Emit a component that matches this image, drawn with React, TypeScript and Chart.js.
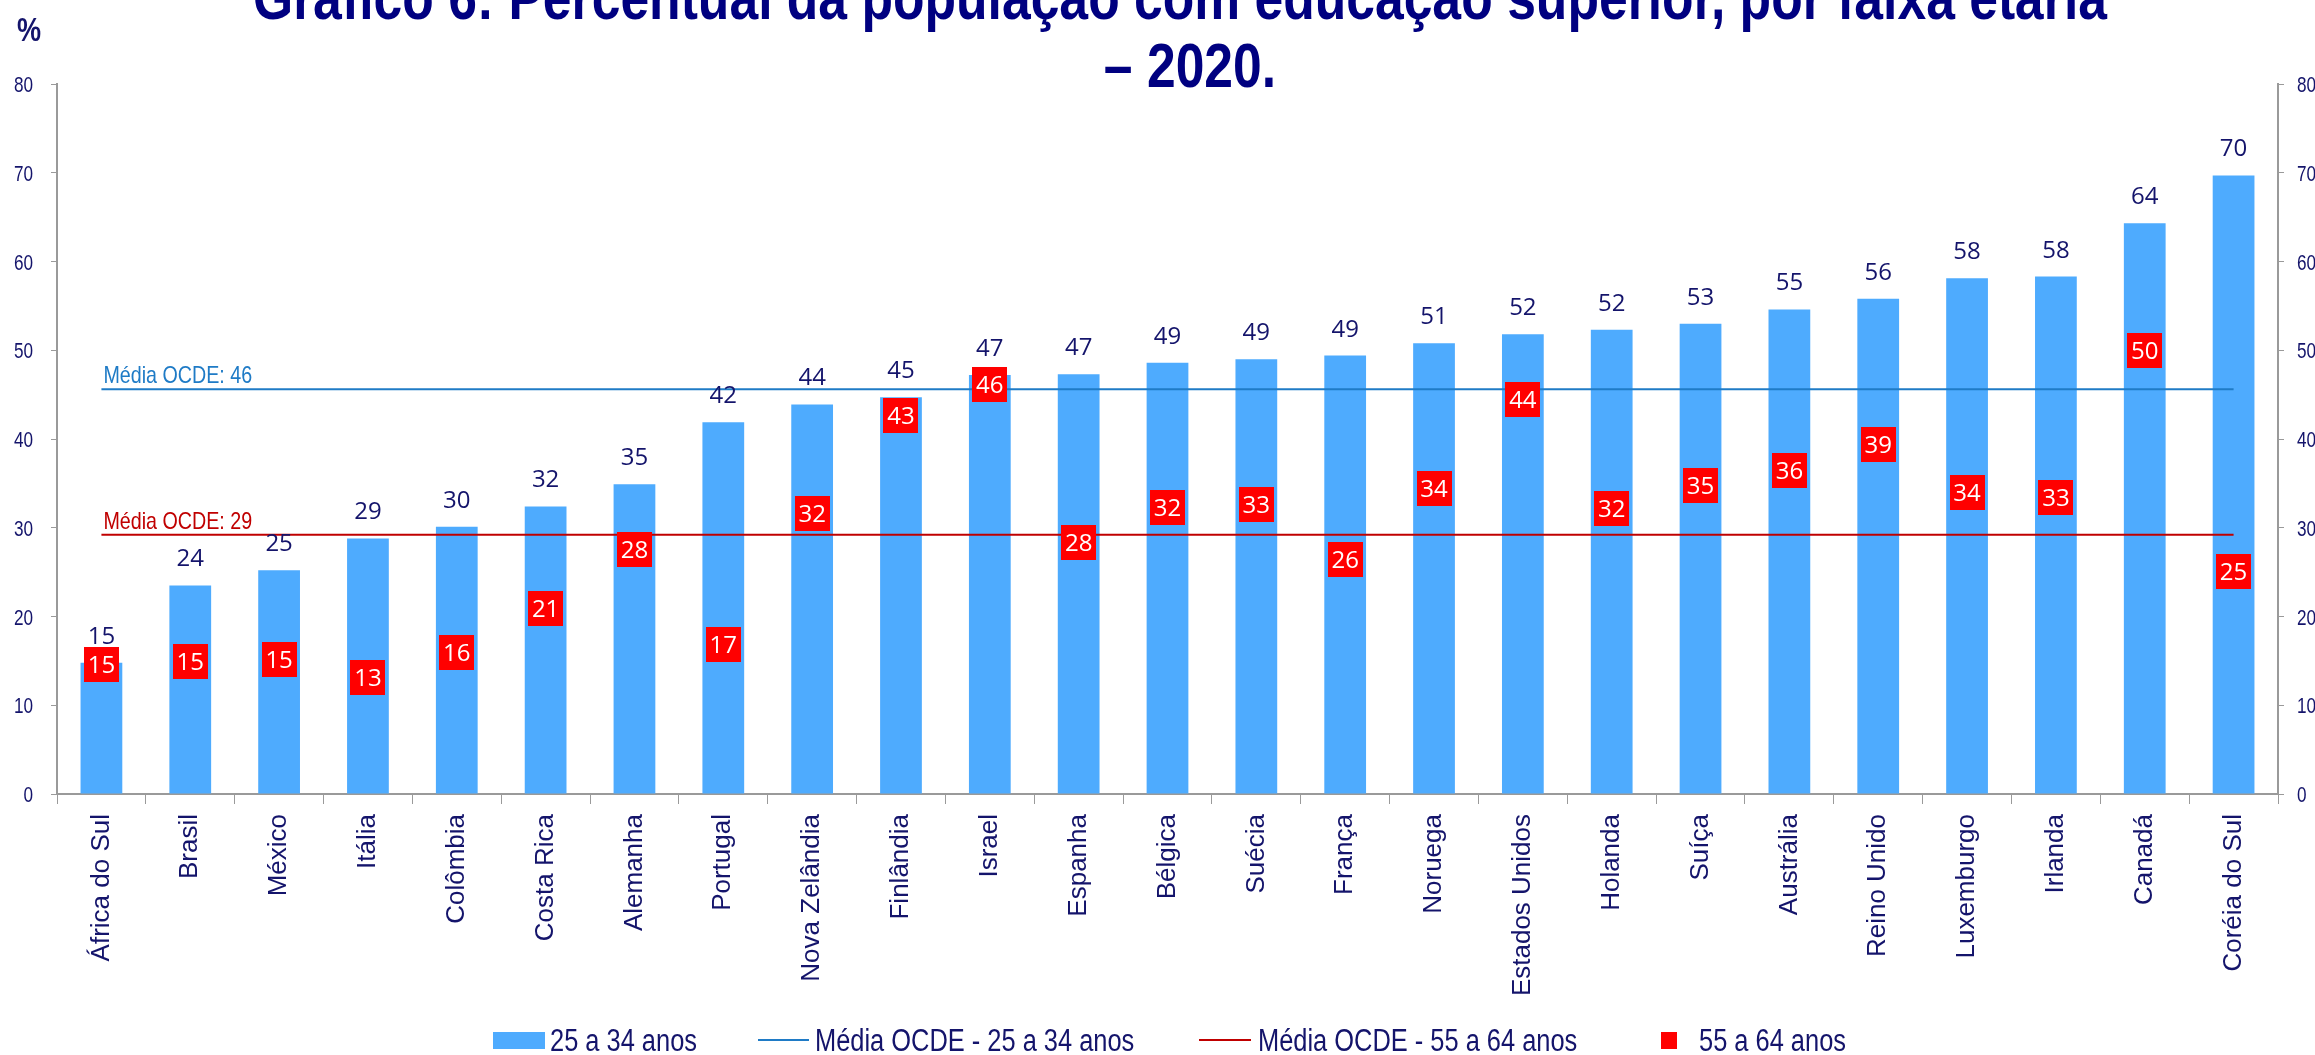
import React, { useEffect, useRef } from "react";
import { Chart, registerables } from "chart.js";

Chart.register(...registerables);

// ---------- DATA ----------
const categories = [
  "África do Sul", "Brasil", "México", "Itália", "Colômbia", "Costa Rica", "Alemanha",
  "Portugal", "Nova Zelândia", "Finlândia", "Israel", "Espanha", "Bélgica", "Suécia",
  "França", "Noruega", "Estados Unidos", "Holanda", "Suíça", "Austrália", "Reino Unido",
  "Luxemburgo", "Irlanda", "Canadá", "Coréia do Sul",
];
const ages25to34 = [
  14.8, 23.5, 25.2, 28.8, 30.1, 32.4, 34.9, 41.9, 43.9, 44.7, 47.2, 47.3, 48.6, 49.0,
  49.4, 50.8, 51.8, 52.3, 53.0, 54.6, 55.8, 58.1, 58.3, 64.3, 69.7,
];
const ages55to64 = [
  14.6, 14.9, 15.1, 13.1, 16.0, 20.9, 27.5, 16.8, 31.6, 42.7, 46.1, 28.3, 32.3, 32.6,
  26.4, 34.4, 44.4, 32.2, 34.8, 36.4, 39.4, 34.0, 33.4, 50.0, 25.1,
];
const oecdMean25to34 = 45.6;
const oecdMean55to64 = 29.2;
const yMin = 0;
const yMax = 80;
const yStep = 10;
const titleLines = [
  "Gráfico 6: Percentual da população com educação superior, por faixa etária",
  "– 2020.",
];
const unitLabel = "%";
const legendLabels = [
  "25 a 34 anos",
  "Média OCDE - 25 a 34 anos",
  "Média OCDE - 55 a 64 anos",
  "55 a 64 anos",
];

// ---------- STYLE ----------
const NAVY = "#14146b";
const TITLE_NAVY = "#000080";
const BAR_BLUE = "#4eabfe";
const LINE_BLUE = "#1f7bc6";
const LINE_RED = "#c00000";
const BOX_RED = "#ff0000";
const AXIS_GRAY = "#9a9a9a";
const ARIAL = "'Liberation Sans', Arial, sans-serif";
const NARROW_X = 0.82;

const W = 2315;
const H = 1055;

function drawScaled(
  ctx: CanvasRenderingContext2D,
  text: string,
  x: number,
  base: number,
  s: number,
  align: CanvasTextAlign,
  baseline: CanvasTextBaseline = "alphabetic"
) {
  ctx.save();
  ctx.translate(x, base);
  ctx.scale(s, 1);
  ctx.textAlign = align;
  ctx.textBaseline = baseline;
  ctx.fillText(text, 0, 0);
  ctx.restore();
}

const decorPlugin = {
  id: "decor",
  afterDatasetsDraw(chart: any) {
    const ctx = chart.ctx as CanvasRenderingContext2D;
    ctx.save();
    // bar value labels
    const barMeta = chart.getDatasetMeta(0);
    ctx.font = "24px 'Open Sans', 'Noto Sans', sans-serif";
    ctx.fillStyle = NAVY;
    ctx.textAlign = "center";
    ctx.textBaseline = "alphabetic";
    barMeta.data.forEach((el: any, i: number) => {
      ctx.fillText(String(Math.round(ages25to34[i])), el.x, el.y - 19);
    });
    // red box labels
    const redMeta = chart.getDatasetMeta(3);
    ctx.fillStyle = "#ffffff";
    redMeta.data.forEach((el: any, i: number) => {
      ctx.fillText(String(Math.round(ages55to64[i])), el.x, el.y + 8.5);
    });
    // mean labels
    ctx.font = `24px ${ARIAL}`;
    const b0 = chart.getDatasetMeta(1).data[0];
    const r0 = chart.getDatasetMeta(2).data[0];
    ctx.fillStyle = LINE_BLUE;
    drawScaled(ctx, `Média OCDE: ${Math.round(oecdMean25to34)}`, b0.x + 2, b0.y - 6, NARROW_X, "left");
    ctx.fillStyle = LINE_RED;
    drawScaled(ctx, `Média OCDE: ${Math.round(oecdMean55to64)}`, r0.x + 2, r0.y - 6, NARROW_X, "left");
    ctx.restore();
  },
  afterDraw(chart: any) {
    const ctx = chart.ctx as CanvasRenderingContext2D;
    ctx.save();
    // y-axis tick labels (narrow), placed by the library's scales
    ctx.font = `22px ${ARIAL}`;
    ctx.fillStyle = NAVY;
    const yL = chart.scales.y;
    const yR = chart.scales.y2;
    yL.ticks.forEach((t: any) => {
      const py = yL.getPixelForValue(t.value);
      drawScaled(ctx, String(t.value), yL.right - 24, py + 8, 0.78, "right");
    });
    yR.ticks.forEach((t: any) => {
      const py = yR.getPixelForValue(t.value);
      drawScaled(ctx, String(t.value), yR.left + 19, py + 8, 0.78, "left");
    });

    // title
    ctx.font = `bold 63px ${ARIAL}`;
    ctx.fillStyle = TITLE_NAVY;
    const w1 = ctx.measureText(titleLines[0]).width;
    const sx = 1854 / w1;
    drawScaled(ctx, titleLines[0], 1180, 19, sx, "center");
    drawScaled(ctx, titleLines[1], 1190, 87, sx, "center");
    // unit label
    ctx.font = `bold 33px ${ARIAL}`;
    ctx.fillStyle = NAVY;
    drawScaled(ctx, unitLabel, 17, 41, NARROW_X, "left");

    // legend
    const base = 1051;
    const cy = 1040;
    ctx.fillStyle = BAR_BLUE;
    ctx.fillRect(493, 1032, 52, 17);
    ctx.lineWidth = 2;
    ctx.strokeStyle = LINE_BLUE;
    ctx.beginPath();
    ctx.moveTo(758, cy);
    ctx.lineTo(809, cy);
    ctx.stroke();
    ctx.strokeStyle = LINE_RED;
    ctx.beginPath();
    ctx.moveTo(1199, cy);
    ctx.lineTo(1251, cy);
    ctx.stroke();
    ctx.fillStyle = BOX_RED;
    ctx.fillRect(1661, 1032, 16, 17);
    ctx.font = `31px ${ARIAL}`;
    ctx.fillStyle = NAVY;
    drawScaled(ctx, legendLabels[0], 550, base, NARROW_X, "left");
    drawScaled(ctx, legendLabels[1], 815, base, NARROW_X, "left");
    drawScaled(ctx, legendLabels[2], 1258, base, NARROW_X, "left");
    drawScaled(ctx, legendLabels[3], 1699, base, NARROW_X, "left");
    ctx.restore();
  },
};

export default function App() {
  const ref = useRef<HTMLCanvasElement | null>(null);

  useEffect(() => {
    if (!ref.current) return;
    const box = document.createElement("canvas");
    box.width = 35;
    box.height = 35;
    const bctx = box.getContext("2d")!;
    bctx.fillStyle = BOX_RED;
    bctx.fillRect(0, 0, 35, 35);

    const chart = new Chart(ref.current, {
      type: "bar",
      data: {
        labels: categories,
        datasets: [
          {
            type: "bar",
            label: legendLabels[0],
            data: ages25to34,
            backgroundColor: BAR_BLUE,
            barPercentage: 0.47,
            categoryPercentage: 1,
            order: 3,
            yAxisID: "y",
          } as any,
          {
            type: "line",
            label: legendLabels[1],
            data: categories.map(() => oecdMean25to34),
            borderColor: LINE_BLUE,
            borderWidth: 2,
            pointRadius: 0,
            tension: 0,
            order: 2,
            yAxisID: "y",
          },
          {
            type: "line",
            label: legendLabels[2],
            data: categories.map(() => oecdMean55to64),
            borderColor: LINE_RED,
            borderWidth: 2,
            pointRadius: 0,
            tension: 0,
            order: 2,
            yAxisID: "y",
          },
          {
            type: "line",
            label: legendLabels[3],
            data: ages55to64,
            showLine: false,
            pointStyle: box as any,
            pointRadius: 17,
            order: 0,
            yAxisID: "y",
          },
        ],
      },
      options: {
        responsive: false,
        devicePixelRatio: 1,
        animation: false,
        events: [],
        layout: { padding: { top: 84, left: 0, right: 0, bottom: 0 } },
        plugins: {
          legend: { display: false },
          title: { display: false },
          tooltip: { enabled: false },
        },
        scales: {
          x: {
            grid: {
              display: true,
              drawOnChartArea: false,
              drawTicks: true,
              tickLength: 10,
              color: AXIS_GRAY,
              offset: true,
            },
            border: { display: true, color: AXIS_GRAY, width: 2 },
            ticks: {
              autoSkip: false,
              maxRotation: 90,
              minRotation: 90,
              padding: 10,
              color: NAVY,
              font: { family: ARIAL, size: 26 },
            },
            afterFit(scale: any) {
              scale.height = 261;
            },
          },
          y: {
            position: "left",
            min: yMin,
            max: yMax,
            ticks: {
              stepSize: yStep,
              padding: 17,
              color: "rgba(0,0,0,0)",
              font: { family: ARIAL, size: 21 },
            },
            grid: {
              drawOnChartArea: false,
              drawTicks: true,
              tickLength: 6,
              color: AXIS_GRAY,
            },
            border: { display: true, color: AXIS_GRAY, width: 2 },
            afterFit(scale: any) {
              scale.width = 57;
            },
          },
          y2: {
            position: "right",
            min: yMin,
            max: yMax,
            ticks: {
              stepSize: yStep,
              padding: 13,
              color: "rgba(0,0,0,0)",
              font: { family: ARIAL, size: 21 },
            },
            grid: {
              drawOnChartArea: false,
              drawTicks: true,
              tickLength: 6,
              color: AXIS_GRAY,
            },
            border: { display: true, color: AXIS_GRAY, width: 2 },
            afterFit(scale: any) {
              scale.width = 37;
            },
          },
        },
      },
      plugins: [decorPlugin],
    });
    return () => chart.destroy();
  }, []);

  return (
    <div style={{ position: "absolute", left: 0, top: 0, width: W, height: H, background: "#ffffff" }}>
      <canvas ref={ref} width={W} height={H} style={{ width: W, height: H, display: "block" }} />
    </div>
  );
}
